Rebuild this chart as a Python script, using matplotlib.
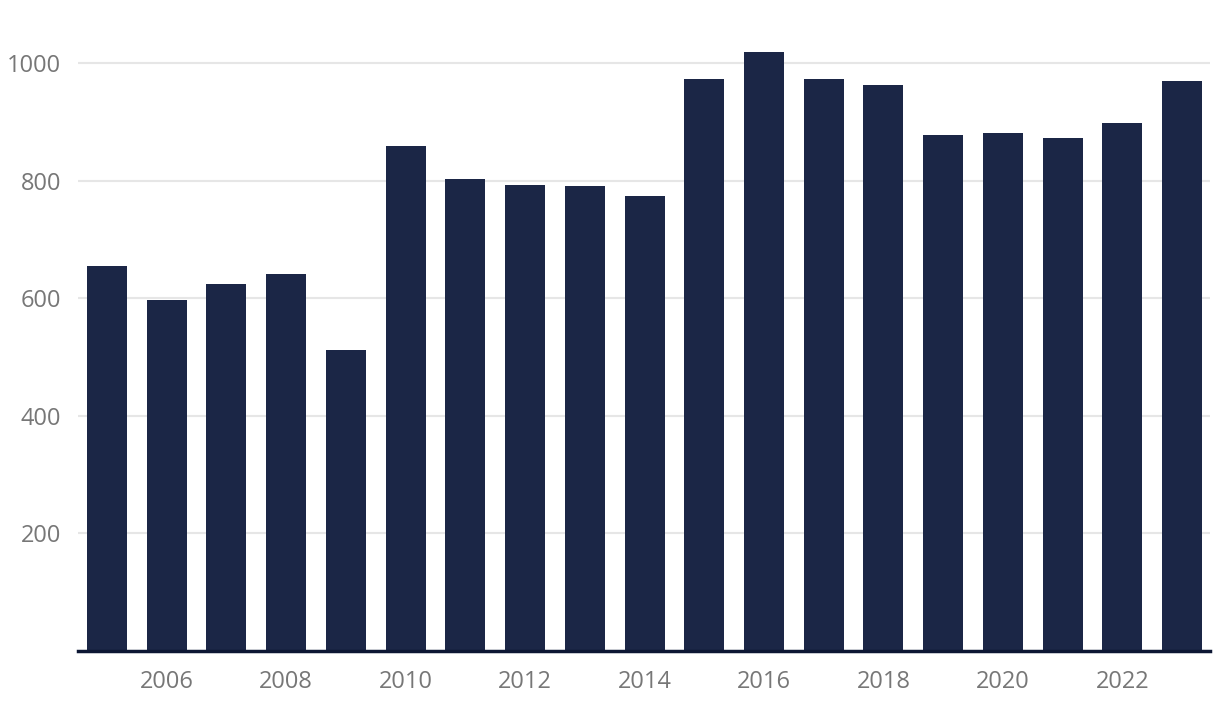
import matplotlib
matplotlib.use("Agg")
import matplotlib.pyplot as plt

# 数据
years = list(range(2005, 2024))
values = [655, 597, 624, 641, 512, 859, 803, 793, 791, 774,
          973, 1019, 973, 963, 878, 881, 872, 898, 969]
y_ticks = [200, 400, 600, 800, 1000]
x_ticks = [2006, 2008, 2010, 2012, 2014, 2016, 2018, 2020, 2022]

bar_color = "#1b2646"
label_color = "#777777"

plt.rcParams['font.family'] = ['Open Sans', 'DejaVu Sans']

fig = plt.figure(figsize=(12.2, 7.16), dpi=100)
ax = fig.add_axes([78 / 1220, 65 / 716, (1210 - 78) / 1220, (651 - 28) / 716])

ax.bar(years, values, width=0.67, color=bar_color, zorder=3)

ax.set_xlim(2004.514, 2023.469)
ax.set_ylim(0, 1060)
ax.set_yticks(y_ticks)
ax.set_xticks(x_ticks)
ax.set_xticklabels([str(x) for x in x_ticks])

ax.grid(axis='y', color='#e6e6e6', linewidth=1.5, zorder=0)
for s in ['top', 'right', 'left']:
    ax.spines[s].set_visible(False)
ax.spines['bottom'].set_color('#0c1633')
ax.spines['bottom'].set_linewidth(2.5)
ax.spines['bottom'].set_zorder(4)

ax.tick_params(axis='both', length=0, labelsize=17, labelcolor=label_color)
ax.tick_params(axis='y', pad=12)
ax.tick_params(axis='x', pad=14)

fig.savefig("out.png", dpi=100)
